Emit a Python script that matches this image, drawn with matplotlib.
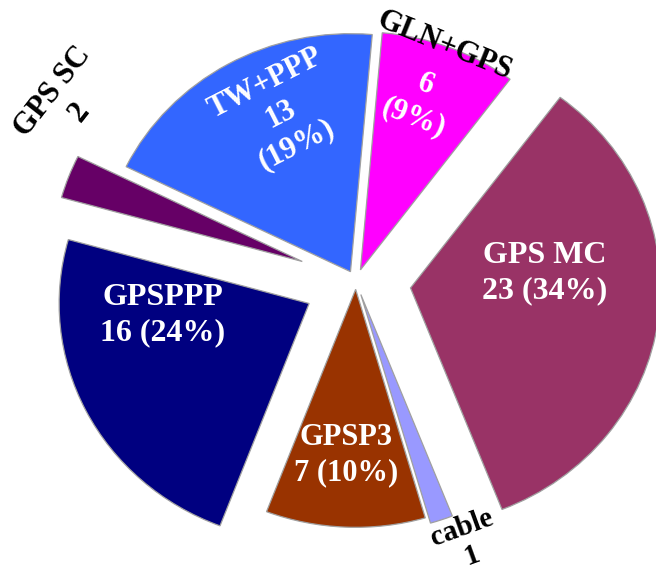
import matplotlib
matplotlib.use("Agg")
import matplotlib.pyplot as plt

labels = ["GLN+GPS", "GPS MC", "cable", "GPSP3", "GPSPPP", "GPS SC", "TW+PPP"]
values = [6, 23, 1, 7, 16, 2, 13]
colors = ["#FF00FF", "#993366", "#9999FF", "#993300", "#000080", "#660066", "#3366FF"]
explode = [0.05, 0.22, 0.06, 0.035, 0.21, 0.23, 0.045]

W, H = 656, 583
fig = plt.figure(figsize=(W / 100, H / 100), dpi=100)
ax = fig.add_axes([0, 0, 1, 1])

wedges, _ = ax.pie(values, colors=colors, explode=explode, startangle=85,
                   counterclock=False, radius=1.0,
                   wedgeprops=dict(edgecolor="#a0a0a0", linewidth=0.9))

# horizontal/vertical scale of the pie in pixels
cx, cy, sx, sy = 356, 281, 250, 238
ax.set_aspect("auto")
ax.set_xlim(-cx / sx, (W - cx) / sx)
ax.set_ylim(-(H - cy) / sy, cy / sy)
ax.axis("off")

total = sum(values)
font = dict(family=["Liberation Serif", "DejaVu Serif"], fontweight="bold")

def pct(v):
    return round(100 * v / total)

# label texts: (text, x_px, y_px, rotation, color, size, linespacing)
texts = [
    (f"{labels[1]}\n{values[1]} ({pct(values[1])}%)", 545, 273, 0, "white", 23, 1.25),
    (f"{labels[4]}\n{values[4]} ({pct(values[4])}%)", 163, 315, 0, "white", 23, 1.25),
    (f"{labels[3]}\n{values[3]} ({pct(values[3])}%)", 346, 455, 0, "white", 22, 1.25),
    (f"{labels[6]}\n{values[6]}\n({pct(values[6])}%)", 281, 114, 27, "white", 22, 1.25),
    (f"{values[0]}\n({pct(values[0])}%)", 420, 101, -21, "white", 22, 1.25),
    (labels[0], 444, 46, -22, "black", 22, 1.25),
    (f"{labels[5]}\n{values[5]}", 66, 102, 52, "black", 22, 1.25),
    (f"{labels[2]}\n{values[2]}", 467, 542, 20, "black", 21, 1.1),
]
for t, x, y, rot, c, s, ls in texts:
    fig.text(x / W, 1 - y / H, t, ha="center", va="center", rotation=rot,
             rotation_mode="anchor", color=c, fontsize=s, linespacing=ls,
             multialignment="center", **font)

fig.savefig("out.png", dpi=100)
